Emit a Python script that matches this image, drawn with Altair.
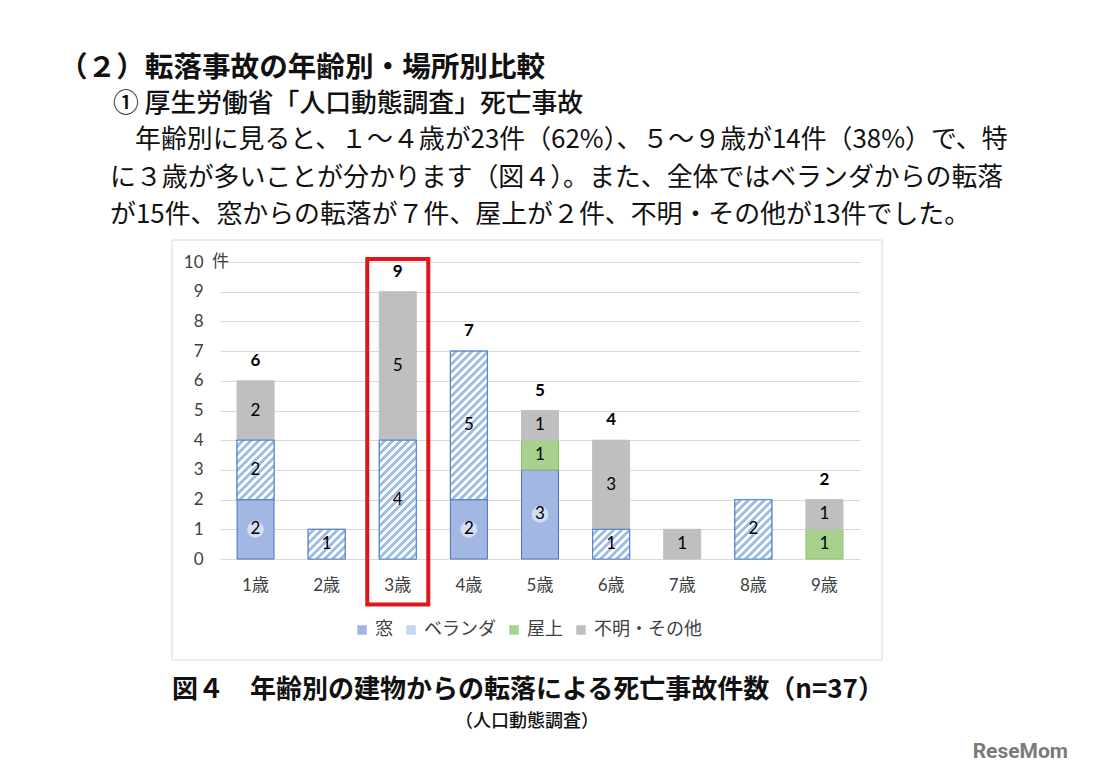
import altair as alt

# ---------------- data ----------------
AGES = ["1歳", "2歳", "3歳", "4歳", "5歳", "6歳", "7歳", "8歳", "9歳"]
PLACES = ["窓", "ベランダ", "屋上", "不明・その他"]
WINDOW = [2, 0, 0, 2, 3, 0, 0, 0, 0]
VERANDA = [2, 1, 4, 5, 0, 1, 0, 2, 0]
ROOF = [0, 0, 0, 0, 1, 0, 0, 0, 1]
OTHER = [2, 0, 5, 0, 1, 3, 1, 0, 1]
TOTALS_SHOWN = [6, None, 9, 7, 5, 4, None, None, 2]
Y_TICKS = [0, 1, 2, 3, 4, 5, 6, 7, 8, 9, 10]
Y_UNIT_LABEL = "件"
HIGHLIGHT_AGE = "3歳"

HEADING = "（２）転落事故の年齢別・場所別比較"
SUBHEADING = "① 厚生労働省「人口動態調査」死亡事故"
PARAGRAPH = [
    "年齢別に見ると、１～４歳が23件（62%）、５～９歳が14件（38%）で、特",
    "に３歳が多いことが分かります（図４）。また、全体ではベランダからの転落",
    "が15件、窓からの転落が７件、屋上が２件、不明・その他が13件でした。",
]
CAPTION = "図４　年齢別の建物からの転落による死亡事故件数（n=37）"
SOURCE = "（人口動態調査）"
WATERMARK = "ReseMom"

# ---------------- layout / style ----------------
PLOT_W, PLOT_H = 640, 297
UNIT = PLOT_H / 10
STEP = PLOT_W / len(AGES)
BAR_W = 37
PAD_IN = 1 - BAR_W / STEP

FONT_NUM = "Lato, 'Noto Sans CJK JP', sans-serif"
FONT_JP = "'Noto Sans CJK JP', sans-serif"
TXT = "#404040"

FILL = {"窓": "#A3B7E3", "ベランダ": "#C3D7F0", "屋上": "#A9D18E", "不明・その他": "#BFBFBF"}
STROKE = {"窓": "#4472C4", "ベランダ": "#5B87C8", "屋上": "#8CC06A", "不明・その他": "#BFBFBF"}


def stripe_gradient(value):
    """Diagonal '/' stripes at 45 degrees for a bar segment of given height."""
    w = BAR_W
    h = value * UNIT
    L = w + h
    half = 4.0
    s = (w + h) * w / (w * w + h * h)
    colors = ["#FFFFFF", "#9EBEE6"]
    stops = [{"offset": 0, "color": colors[0]}]
    idx = 0
    c = half
    while c < L:
        b = round(c / L, 5)
        stops.append({"offset": b, "color": colors[idx]})
        idx = 1 - idx
        stops.append({"offset": b, "color": colors[idx]})
        c += half
    stops.append({"offset": 1, "color": colors[idx]})
    return {"gradient": "linear", "x1": 0, "y1": 0, "x2": s, "y2": s * h / w, "stops": stops}


series = {"窓": WINDOW, "ベランダ": VERANDA, "屋上": ROOF, "不明・その他": OTHER}
segments = []
for i, age in enumerate(AGES):
    base = 0
    for p in PLACES:
        v = series[p][i]
        if v:
            rec = {"age": age, "place": p, "value": v, "y0": base, "y1": base + v,
                   "mid": base + v / 2, "stroke": STROKE[p]}
            if p == "ベランダ":
                rec["grad"] = stripe_gradient(v)
            segments.append(rec)
            base += v

totals = [{"age": a, "total": t} for a, t in zip(AGES, TOTALS_SHOWN) if t is not None]
veranda = [r for r in segments if r["place"] == "ベランダ"]
window_lbl = [r for r in segments if r["place"] == "窓"]

YS = alt.Scale(domain=[0, 10], nice=False, zero=True)
XS = alt.Scale(domain=AGES, paddingInner=PAD_IN, paddingOuter=PAD_IN / 2)

x_axis = alt.Axis(title=None, labelAngle=0, ticks=False, domain=False, grid=False,
                  labelFontSize=17, labelFont=FONT_NUM, labelColor=TXT, labelPadding=18)
y_axis = alt.Axis(title=None, values=Y_TICKS, ticks=False, domain=False, grid=True,
                  gridColor="#D9D9D9", gridWidth=1, labelFontSize=17, labelFont=FONT_NUM,
                  labelColor=TXT, labelPadding=17)


def X():
    return alt.X("age:N", sort=AGES, scale=XS, axis=x_axis)


def Y(field):
    return alt.Y(field, scale=YS, axis=y_axis)


one = alt.Data(values=[{}])

frame = alt.Chart(one).mark_rect(fillOpacity=0, stroke="#D9D9D9", strokeWidth=1).encode(
    x=alt.value(-48), x2=alt.value(662), y=alt.value(-22), y2=alt.value(398)
)

bars = alt.Chart(alt.Data(values=segments)).mark_bar(strokeWidth=1).encode(
    x=X(),
    y=Y("y1:Q"),
    y2=alt.Y2("y0:Q"),
    color=alt.Color(
        "place:N",
        scale=alt.Scale(domain=PLACES, range=[FILL[p] for p in PLACES]),
        legend=alt.Legend(orient="none", legendX=133, legendY=620 - 261, direction="horizontal",
                          columns=4, title=None, symbolType="square", symbolSize=90,
                          symbolStrokeWidth=0, labelFontSize=18, labelFont=FONT_JP,
                          labelColor=TXT, columnPadding=9, labelOffset=4, padding=0),
    ),
    stroke=alt.Stroke("stroke:N", scale=None),
)

stripes = alt.Chart(alt.Data(values=veranda)).mark_bar(stroke=STROKE["ベランダ"], strokeWidth=1.2).encode(
    x=X(),
    y=Y("y1:Q"),
    y2=alt.Y2("y0:Q"),
    fill=alt.Fill("grad:N", scale=None, legend=None),
)

halo = alt.Chart(alt.Data(values=window_lbl)).mark_circle(size=280, color="white", opacity=0.55).encode(
    x=X(), y=Y("mid:Q")
)

seg_labels = alt.Chart(alt.Data(values=segments)).mark_text(
    fontSize=17, font=FONT_NUM, color="#000000", baseline="middle"
).encode(x=X(), y=Y("mid:Q"), text="value:Q")

total_labels = alt.Chart(alt.Data(values=totals)).mark_text(
    fontSize=17, font=FONT_NUM, fontWeight="bold", color="#000000", baseline="middle", dy=-20
).encode(x=X(), y=Y("total:Q"), text="total:Q")

highlight = alt.Chart(alt.Data(values=[{"age": HIGHLIGHT_AGE, "top": 10.1, "bottom": -1.53}])).mark_bar(
    width=61, fillOpacity=0, stroke="#E0161D", strokeWidth=4
).encode(x=X(), y=Y("top:Q"), y2=alt.Y2("bottom:Q"))

unit_label = alt.Chart(one).mark_text(
    text=Y_UNIT_LABEL, fontSize=17, font=FONT_JP, color=TXT, align="left", baseline="middle"
).encode(x=alt.value(-8), y=alt.value(0))


def text_layer(text, x, y, size, weight="normal", align="left", font=FONT_JP, color="#111111"):
    return alt.Chart(one).mark_text(
        text=text, fontSize=size, fontWeight=weight, align=align, baseline="middle",
        font=font, color=color
    ).encode(x=alt.value(x), y=alt.value(y))


texts = [
    text_layer(HEADING, -161, -194, 28.6, "bold"),
    text_layer(SUBHEADING, -107, -158, 25.8, 500),
    text_layer(PARAGRAPH[0], -85, -122, 25.9),
    text_layer(PARAGRAPH[1], -110, -84, 25.9),
    text_layer(PARAGRAPH[2], -110, -47, 25.9),
    text_layer(CAPTION, -48, 428, 26, "bold"),
    text_layer(SOURCE, 307, 460, 18, 500, "center"),
    text_layer(WATERMARK, 848, 490, 21, "bold", "right",
               "'Liberation Sans Narrow', 'Arial Narrow', Roboto, sans-serif", "#7A7A7A"),
]

chart = alt.layer(
    frame, bars, stripes, halo, seg_labels, total_labels, highlight, unit_label, *texts
).properties(
    width=PLOT_W,
    height=PLOT_H,
    autosize=alt.AutoSizeParams(type="none"),
    padding={"left": 212, "top": 254, "right": 222, "bottom": 209},
    background="white",
).configure_view(stroke=None)

chart.save("out.html", embed_options={"renderer": "svg", "actions": False})
